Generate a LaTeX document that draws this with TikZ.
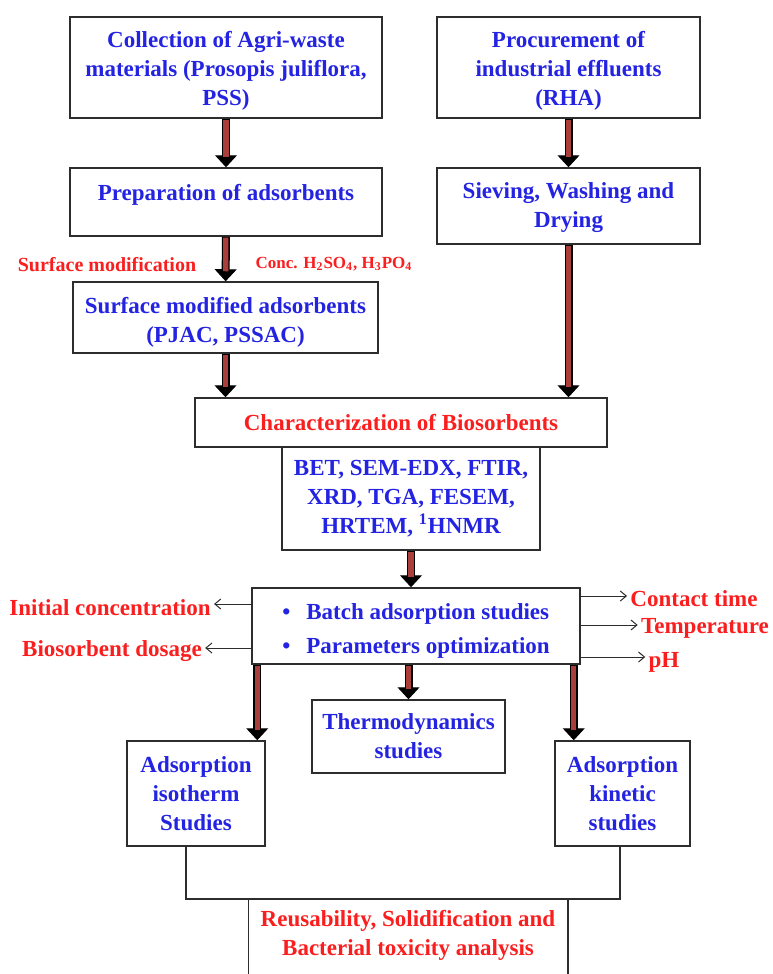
\documentclass[tikz,border=0pt]{standalone}
\usepackage{fontspec}
\setmainfont{Liberation Serif}
\usetikzlibrary{arrows.meta}

\definecolor{txtblue}{RGB}{35,35,225}
\definecolor{txtred}{RGB}{250,30,30}
\definecolor{arrowbrown}{RGB}{170,62,58}
\definecolor{edgegray}{RGB}{45,45,45}

\tikzset{
	box/.style={draw=edgegray, line width=0.75pt, align=center, text=txtblue, inner sep=2pt,
		font=\bfseries\fontsize{11.5}{14.5}\selectfont},
	redlabel/.style={text=txtred, inner sep=1.5pt, font=\bfseries\fontsize{11.5}{14.5}\selectfont},
	bigarrow/.style={line width=4pt, draw=black, -{Triangle[width=11pt,length=6pt,line width=0.5pt]},
		postaction={draw=arrowbrown, line width=2.6pt, -, shorten >=5pt, shorten <=0.4pt}},
	thinarrow/.style={draw=edgegray, line width=0.5pt, -{Straight Barb[length=3pt,width=5pt]}},
}

\begin{document}
\begin{tikzpicture}[x=0.5pt,y=-0.5pt]

	\useasboundingbox (0,0) rectangle (772,974);

	\node [name=collect, box, minimum width=156pt, minimum height=50.5pt] at (226,67.5) {\rule{0pt}{11pt}Collection of Agri-waste\\materials (Prosopis juliflora,\\PSS)};
	\node [name=procure, box, minimum width=131.5pt, minimum height=50.5pt] at (568.5,67.5) {\rule{0pt}{11pt}Procurement of\\industrial effluents\\(RHA)};

	\node [name=prepare, box, minimum width=156pt, minimum height=34pt] at (226,202) {Preparation of adsorbents\rule[-9.5pt]{0pt}{9.5pt}};
	\node [name=sieve, box, minimum width=131.5pt, minimum height=38pt] at (568.5,206) {\rule{0pt}{9.5pt}Sieving, Washing and\\Drying};

	\node [name=modified, box, minimum width=152.5pt, minimum height=35.5pt] at (225.5,317.5) {\rule{0pt}{13pt}Surface modified adsorbents\\(PJAC, PSSAC)};

	\node [name=charact, box, text=txtred, minimum width=206pt, minimum height=24.5pt] at (401,422.5) {Characterization of Biosorbents};
	\node [name=methods, box, minimum width=129pt, minimum height=51.5pt] at (411,498.5) {BET, SEM-EDX, FTIR,\\XRD, TGA, FESEM,\\HRTEM, \textsuperscript{1}HNMR};

	\node [name=batch, box, align=left, minimum width=164pt, minimum height=38pt] at (416,626) {\rule{0pt}{13pt}\textbullet\hspace{8pt}Batch adsorption studies\\[2.5pt]\textbullet\hspace{8pt}Parameters optimization};

	\node [name=thermo, box, minimum width=96.5pt, minimum height=36.5pt] at (408.5,736.5) {Thermodynamics\\studies};
	\node [name=isotherm, box, minimum width=69pt, minimum height=52.5pt] at (196,793.5) {Adsorption\\isotherm\\Studies};
	\node [name=kinetic, box, minimum width=67.5pt, minimum height=52.5pt] at (622.5,793.5) {Adsorption\\kinetic\\studies};

	\node [name=reuse, box, draw=none, text=txtred, minimum width=159pt, minimum height=34pt] at (408,933) {\rule{0pt}{10pt}Reusability, Solidification and\\Bacterial toxicity analysis};
	\coordinate (bottom) at (408,974);
	\draw [draw=edgegray, line width=0.75pt] (reuse.west |- bottom) -- (reuse.north west) -- (reuse.north east) -- (reuse.east |- bottom);

	\node [name=surfmod, redlabel, font=\bfseries\fontsize{10}{12}\selectfont] at (107,265) {Surface modification};
	\node [name=acids, redlabel, font=\bfseries\fontsize{8.5}{10}\selectfont] at (334,264) {Conc. H\textsubscript{2}SO\textsubscript{4}, H\textsubscript{3}PO\textsubscript{4}};

	\node [name=initconc, redlabel] at (110,608) {Initial concentration};
	\node [name=dosage, redlabel] at (112,651) {Biosorbent dosage};
	\node [name=contact, redlabel] at (694,599) {Contact time};
	\node [name=temper, redlabel] at (705,628) {Temperature};
	\node [name=ph, redlabel] at (664,662) {pH};

	\draw [bigarrow] (collect) -- (prepare);
	\draw [bigarrow] (procure) -- (sieve);
	\draw [bigarrow] (prepare) -- (modified);
	\draw [bigarrow] (modified) -- (modified.south |- charact.north);
	\draw [bigarrow] (sieve) -- (sieve.south |- charact.north);
	\draw [bigarrow] (methods) -- (methods.south |- batch.north);

	\path (batch.south west) ++(6,0) coordinate (toiso);
	\path (batch.south east) ++(-7,0) coordinate (tokin);
	\draw [bigarrow] (toiso) -- (toiso |- isotherm.north);
	\draw [bigarrow] (thermo.north |- batch.south) -- (thermo);
	\draw [bigarrow] (tokin) -- (tokin |- kinetic.north);

	\draw [thinarrow] (batch.west |- 0,604) -- (initconc.east |- 0,604);
	\draw [thinarrow] (batch.west |- 0,648) -- (dosage.east |- 0,648);
	\draw [thinarrow] (batch.east |- 0,596) -- (contact.west |- 0,596);
	\draw [thinarrow] (batch.east |- 0,625) -- (temper.west |- 0,625);
	\draw [thinarrow] (batch.east |- 0,657) -- (ph.west |- 0,657);

	\coordinate (isojoin) at (186,899);
	\coordinate (kinjoin) at (620,899);
	\draw [draw=edgegray, line width=0.75pt] (isotherm.south -| isojoin) -- (isojoin) -- (kinjoin) -- (kinetic.south -| kinjoin);

\end{tikzpicture}
\end{document}
